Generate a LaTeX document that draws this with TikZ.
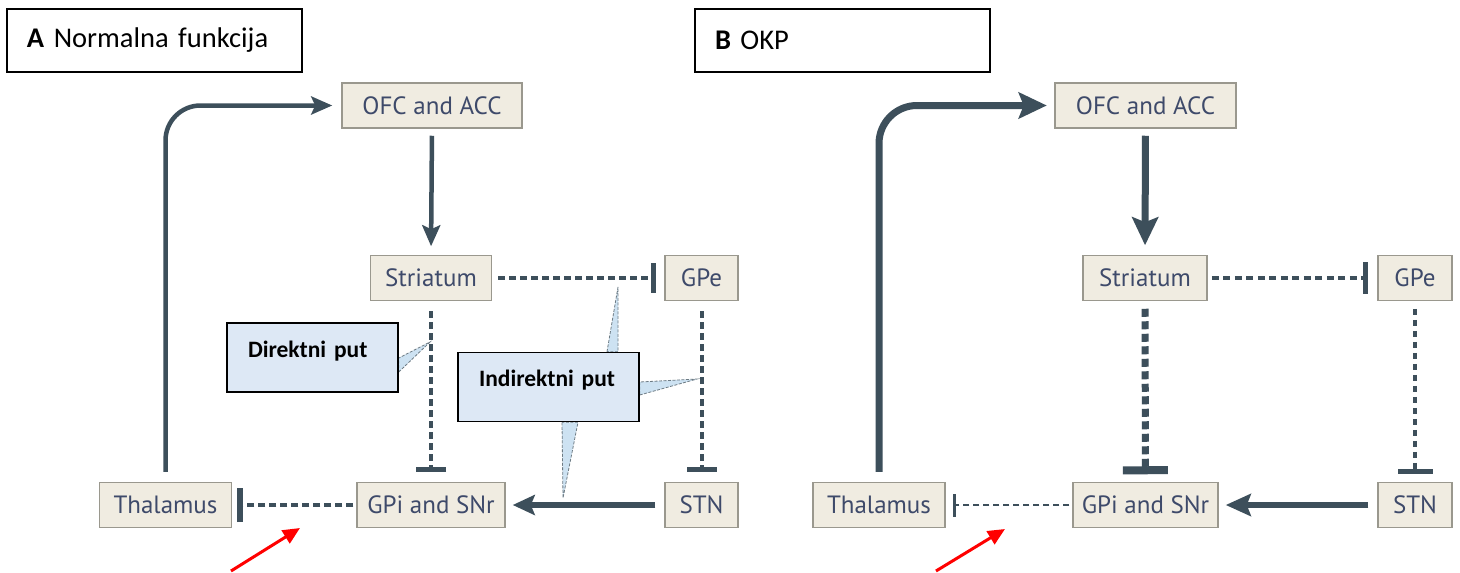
\documentclass[tikz,border=0pt]{standalone}
\usepackage{fontspec}
\setmainfont{Carlito}
\newfontfamily\regionfont{PT Sans}
\usepackage{tikz}
\usetikzlibrary{arrows.meta,backgrounds}
\usetikzlibrary{positioning}

\definecolor{pathcol}{HTML}{3D4F5B}
\definecolor{regfill}{HTML}{F0ECE1}
\definecolor{regline}{HTML}{9A988E}
\definecolor{regtext}{HTML}{3E4A6A}
\definecolor{callfill}{HTML}{DDE8F5}
\definecolor{wedgefill}{HTML}{CDE2F2}

\tikzset{
	region/.style={draw=regline, line width=1.5pt, fill=regfill, text=regtext,
		font=\regionfont\fontsize{25}{28}\selectfont, minimum height=45pt, inner sep=0pt},
	titlebox/.style={draw=black, line width=1.2pt, minimum width=295pt, minimum height=63pt,
		text width=255pt, inner xsep=20pt, align=left, font=\fontsize{28.5}{32}\selectfont},
	pathbox/.style={draw=black, line width=1.5pt, fill=callfill, inner xsep=21pt, inner ysep=10pt,
		text height=24pt, text depth=25pt, align=left, font=\bfseries\fontsize{23.5}{27}\selectfont},
	wedge/.style={fill=wedgefill, draw=pathcol!75, line width=0.8pt, dash pattern=on 3pt off 1.5pt},
	excA/.style={pathcol, line width=4.5pt, -{Stealth[length=21pt,width=18pt,inset=4pt]}},
	excB/.style={pathcol, line width=7pt, -{Stealth[length=28pt,width=26pt,inset=5pt]}},
	inhA/.style={pathcol, line width=4pt, dash pattern=on 7pt off 4pt},
	redarrow/.style={red, line width=3pt, -{Triangle[length=17pt,width=15pt]}}
}

\begin{document}
\begin{tikzpicture}[x=1pt, y=-1pt]
	\useasboundingbox (0,0) rectangle (1460,573);

	% A: normal function
	\node[titlebox] (titleA) at (154.5,40.5) {\textbf{A} Normalna funkcija};
	\node[region, minimum width=180pt] (ofcA) at (432,105.5) {OFC and ACC};
	\node[region, minimum width=121pt] (striA) at (431,278) {Striatum};
	\node[region, minimum width=73pt] (gpeA) at (701.5,278) {GPe};
	\node[region, minimum width=132pt] (thalA) at (165.5,505) {Thalamus};
	\node[region, minimum width=148pt] (gpiA) at (431,505) {GPi and SNr};
	\node[region, minimum width=73pt] (stnA) at (701.5,505) {STN};

	\draw[excA, rounded corners=35pt, shorten <=10pt, shorten >=9pt] (thalA.north) |- (ofcA.west);
	\draw[excA, shorten <=7pt, shorten >=8.5pt] (ofcA.south) -- (striA.north);
	\draw[inhA, -{Bar[width=30pt,line width=5.5pt]}, shorten <=6pt, shorten >=8pt] (striA.east) -- (gpeA.west);
	\draw[inhA, -{Bar[width=30pt,line width=5pt]}, shorten <=10pt, shorten >=10pt] (striA.south) -- (gpiA.north);
	\draw[inhA, -{Bar[width=30pt,line width=5pt]}, shorten <=10pt, shorten >=10pt] (gpeA.south) -- (stnA.north);
	\draw[pathcol, line width=5.5pt, -{Stealth[length=22pt,width=20pt,inset=4pt]}, shorten <=9pt, shorten >=7pt] (stnA.west) -- (gpiA.east);
	\draw[inhA, -{Bar[width=34pt,line width=6pt]}, shorten <=3pt, shorten >=4.5pt] (gpiA.west) -- (thalA.east);

	% B: OCD
	\node[titlebox] (titleB) at (842.5,40.5) {\textbf{B} OKP};
	\node[region, minimum width=181pt] (ofcB) at (1145.5,105.5) {OFC and ACC};
	\node[region, minimum width=124pt] (striB) at (1145,278) {Striatum};
	\node[region, minimum width=74pt] (gpeB) at (1415,278) {GPe};
	\node[region, minimum width=132pt] (thalB) at (879,505) {Thalamus};
	\node[region, minimum width=145pt] (gpiB) at (1145.5,505) {GPi and SNr};
	\node[region, minimum width=74pt] (stnB) at (1415,505) {STN};

	\draw[excB, rounded corners=38pt, shorten <=10pt, shorten >=7.5pt] (thalB.north) |- (ofcB.west);
	\draw[excB, shorten <=7pt, shorten >=9.5pt] (ofcB.south) -- (striB.north);
	\draw[pathcol, line width=4.5pt, dash pattern=on 7pt off 4.5pt, -{Bar[width=32pt,line width=5pt]}, shorten <=4pt, shorten >=9.5pt] (striB.east) -- (gpeB.west);
	\draw[pathcol, line width=7pt, dash pattern=on 8pt off 4.5pt, -{Bar[width=45pt,line width=8pt]}, shorten <=7.5pt, shorten >=7.5pt] (striB.south) -- (gpiB.north);
	\draw[pathcol, line width=4pt, dash pattern=on 6pt off 5pt, -{Bar[width=35pt,line width=5pt]}, shorten <=7.5pt, shorten >=8pt] (gpeB.south) -- (stnB.north);
	\draw[pathcol, line width=6pt, -{Stealth[length=25pt,width=22pt,inset=4pt]}, shorten <=9pt, shorten >=7pt] (stnB.west) -- (gpiB.east);
	\draw[pathcol, line width=2pt, dash pattern=on 6pt off 4pt, -{Bar[width=23pt,line width=2.5pt]}, shorten <=3pt, shorten >=7.5pt] (gpiB.west) -- (thalB.east);

	% callouts
	\node[pathbox, text width=129pt] (dirBox) at (312.5,357.5) {Direktni put};
	\node[pathbox, text width=139pt] (indBox) at (548.5,387) {Indirektni put};
	\coordinate (dirTip) at (430,342);
	\coordinate (indTipUp) at (618,287);
	\coordinate (indTipRight) at (697,379);
	\coordinate (indTipDown) at (563,498);
	\begin{scope}[on background layer]
		\fill[white] (0,0) rectangle (1460,573);
		\draw[wedge] ([yshift=-14.5pt]dirBox.east) -- (dirTip) -- ([yshift=-0.5pt]dirBox.east) -- cycle;
		\draw[wedge] ([xshift=58.5pt]indBox.north) -- (indTipUp) -- ([xshift=69.5pt]indBox.north) -- cycle;
		\draw[wedge] ([yshift=-8pt]indBox.east) -- (indTipRight) -- ([yshift=5pt]indBox.east) -- cycle;
		\draw[wedge] ([xshift=13.5pt]indBox.south) -- (indTipDown) -- ([xshift=29.5pt]indBox.south) -- cycle;
	\end{scope}

	% red markers
	\coordinate (redTailA) at (231,571);
	\coordinate (redTipA) at (300,528);
	\coordinate (redTailB) at (936,571);
	\coordinate (redTipB) at (1005,529);
	\draw[redarrow] (redTailA) -- (redTipA);
	\draw[redarrow] (redTailB) -- (redTipB);
\end{tikzpicture}
\end{document}
